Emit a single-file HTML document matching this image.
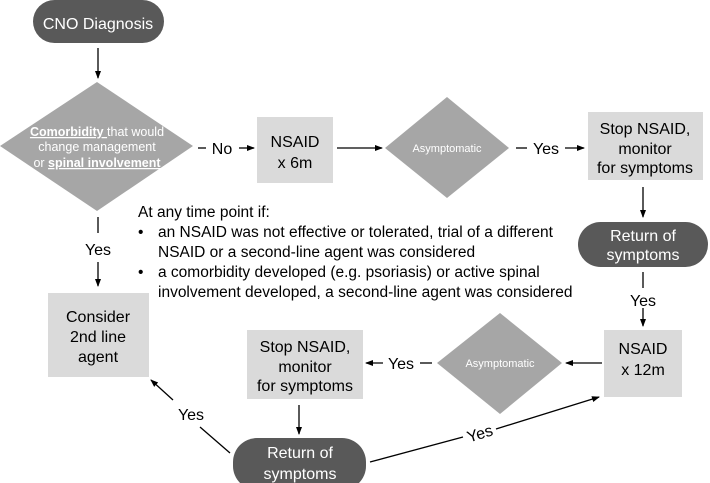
<!DOCTYPE html>
<html><head><meta charset="utf-8"><style>
html,body{margin:0;padding:0;background:#fff;}
svg{display:block;font-family:"Liberation Sans",Arial,sans-serif;}
</style></head><body>
<svg width="710" height="483" viewBox="0 0 710 483" xmlns="http://www.w3.org/2000/svg">
<defs>
<marker id="a" markerWidth="8" markerHeight="8" refX="7" refY="4" orient="auto" markerUnits="userSpaceOnUse">
<path d="M0,1 L8,4 L0,7 Z" fill="#000"/></marker>
</defs>
<g stroke="#000" stroke-width="1.3" fill="none">
<!-- CNO down -->
<line x1="98" y1="48" x2="98" y2="78" marker-end="url(#a)"/>
<!-- No -->
<line x1="198" y1="148" x2="206" y2="148"/>
<line x1="239" y1="148" x2="254" y2="148" marker-end="url(#a)"/>
<line x1="337" y1="148" x2="382" y2="148" marker-end="url(#a)"/>
<!-- Yes right -->
<line x1="516" y1="148" x2="527" y2="148"/>
<line x1="565" y1="148" x2="584" y2="148" marker-end="url(#a)"/>
<line x1="643" y1="187" x2="643" y2="217" marker-end="url(#a)"/>
<!-- diamond1 down -->
<line x1="98" y1="217" x2="98" y2="233"/>
<line x1="98" y1="262" x2="98" y2="286" marker-end="url(#a)"/>
<!-- return -> nsaid12 -->
<line x1="643" y1="272" x2="643" y2="288"/>
<line x1="643" y1="308" x2="643" y2="326" marker-end="url(#a)"/>
<!-- nsaid12 -> diamond3 -->
<line x1="602" y1="363" x2="566" y2="363" marker-end="url(#a)"/>
<line x1="432" y1="363" x2="420" y2="363"/>
<line x1="383" y1="363" x2="366" y2="363" marker-end="url(#a)"/>
<!-- stop -> return -->
<line x1="299" y1="405" x2="299" y2="434" marker-end="url(#a)"/>
<!-- diag to consider -->
<line x1="230" y1="453" x2="200" y2="427"/>
<line x1="173" y1="400" x2="151" y2="380" marker-end="url(#a)"/>
<!-- diag to nsaid12 -->
<line x1="370" y1="462" x2="463" y2="437"/>
<line x1="496" y1="429" x2="599" y2="397" marker-end="url(#a)"/>
</g>
<!-- shapes -->
<rect x="33" y="0" width="131" height="43" rx="21.5" fill="#595959"/>
<polygon points="97,82 193,146 97,211 0,146" fill="#a6a6a6"/>
<rect x="257" y="117" width="76" height="66" fill="#dadada"/>
<polygon points="447,97 509,148 447,198 385,148" fill="#a6a6a6"/>
<rect x="588" y="112" width="115" height="68" fill="#dadada"/>
<rect x="578" y="222" width="130" height="45" rx="22.5" fill="#595959"/>
<rect x="604" y="330" width="78" height="67" fill="#dadada"/>
<polygon points="500,313 562,363 500,414 437,363" fill="#a6a6a6"/>
<rect x="247" y="330" width="116" height="69" fill="#dadada"/>
<rect x="48" y="293" width="101" height="84" fill="#dadada"/>
<rect x="233" y="438" width="133" height="52" rx="24" fill="#595959"/>
<!-- text -->
<g font-size="16" text-anchor="middle" fill="#000">
<text x="98" y="29" fill="#fff">CNO Diagnosis</text>
<text x="295" y="147">NSAID</text>
<text x="295" y="168">x 6m</text>
<text x="222" y="154">No</text>
<text x="546" y="154">Yes</text>
<text x="645" y="134">Stop NSAID,</text>
<text x="645" y="154">monitor</text>
<text x="645" y="173">for symptoms</text>
<text x="643" y="241" fill="#fff">Return of</text>
<text x="643" y="260" fill="#fff">symptoms</text>
<text x="643" y="306">Yes</text>
<text x="98" y="255">Yes</text>
<text x="643" y="354">NSAID</text>
<text x="643" y="375">x 12m</text>
<text x="401" y="369">Yes</text>
<text x="305" y="352">Stop NSAID,</text>
<text x="305" y="372">monitor</text>
<text x="305" y="391">for symptoms</text>
<text x="98" y="322">Consider</text>
<text x="98" y="342">2nd line</text>
<text x="98" y="362">agent</text>
<text x="300" y="458" fill="#fff">Return of</text>
<text x="300" y="479" fill="#fff">symptoms</text>
<text x="191" y="420">Yes</text>
<text x="480" y="439" transform="rotate(-17 480 434)">Yes</text>
</g>
<g font-size="12.5" text-anchor="middle" fill="#fff">
<text x="97" y="136"><tspan text-decoration="underline" font-weight="bold">Comorbidity </tspan>that would</text>
<text x="97" y="151">change management</text>
<text x="97" y="167">or <tspan text-decoration="underline" font-weight="bold">spinal involvement</tspan></text>
</g>
<g font-size="11" text-anchor="middle" fill="#fff">
<text x="447" y="152">Asymptomatic</text>
<text x="500" y="367">Asymptomatic</text>
</g>
<g font-size="15.5" fill="#000">
<text x="138" y="217">At any time point if:</text>
<text x="138" y="237">•</text>
<text x="158" y="237">an NSAID was not effective or tolerated, trial of a different</text>
<text x="158" y="257">NSAID or a second-line agent was considered</text>
<text x="138" y="277">•</text>
<text x="158" y="277">a comorbidity developed (e.g. psoriasis) or active spinal</text>
<text x="158" y="297">involvement developed, a second-line agent was considered</text>
</g>
</svg>
</body></html>
